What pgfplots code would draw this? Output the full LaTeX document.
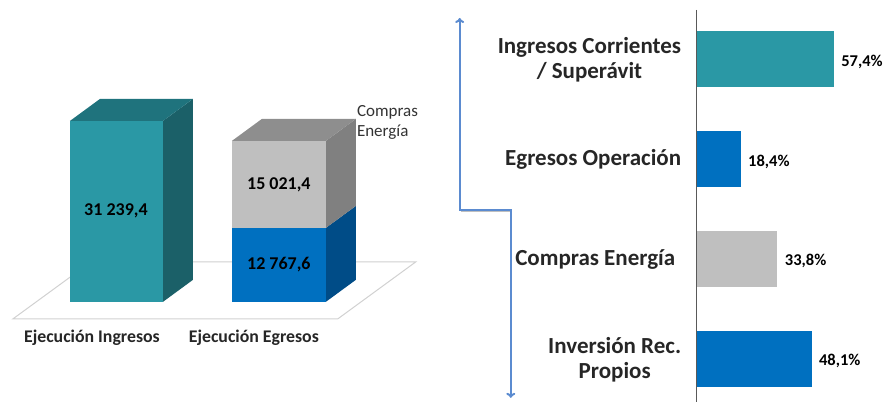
\documentclass[border=0pt]{standalone}
\usepackage{pgfplots}
\pgfplotsset{compat=1.18}
\usepackage{fontspec}
\setmainfont{Carlito}
\usetikzlibrary{arrows.meta}
\definecolor{tealF}{HTML}{2A98A5}
\definecolor{tealS}{HTML}{1B6068}
\definecolor{tealT}{HTML}{1F737D}
\definecolor{blueF}{HTML}{0070C0}
\definecolor{blueS}{HTML}{004C87}
\definecolor{grayF}{HTML}{BFBFBF}
\definecolor{grayS}{HTML}{808080}
\definecolor{grayT}{HTML}{8E8E8E}
\definecolor{arrowc}{HTML}{5B8BD0}
\pgfplotsset{
  pctbar/.style={xbar, draw=none, bar shift=0pt, point meta=x,
    nodes near coords={\pgfmathprintnumber[fixed, fixed zerofill, precision=1, use comma, assume math mode=true]{\pgfplotspointmeta}\%},
    nodes near coords style={anchor=west, text=black, font=\bfseries\fontsize{16.5}{18}\selectfont, xshift=4pt, yshift=-2pt}},
}
\begin{document}
\begin{tikzpicture}[x=1pt,y=1pt]
\path (0,0) rectangle (886,402);
% ---------------- left: 3D columns ----------------
\begin{axis}[at={(0pt,0pt)}, anchor=south west, scale only axis,
  width=440pt, height=402pt, xmin=0, xmax=440, ymin=-17259, ymax=52122,
  hide axis, clip=false]
% floor
\addplot[draw=black!18, line width=1pt, fill=white] coordinates {(13,-2934) (338,-2934) (416,6904) (91,6904)} --cycle;
% Ejecucion Ingresos
\addplot[draw=none, fill=tealS] coordinates {(163,0) (193,3797) (193,35036.4) (163,31239.4)} --cycle;
\addplot[draw=none, fill=tealT] coordinates {(70,31239.4) (163,31239.4) (193,35036.4) (100,35036.4)} --cycle;
\addplot[draw=none, fill=tealF] coordinates {(70,0) (163,0) (163,31239.4) (70,31239.4)} --cycle;
% Ejecucion Egresos
\addplot[draw=none, fill=blueS] coordinates {(326,0) (356,3797) (356,16564.6) (326,12767.6)} --cycle;
\addplot[draw=none, fill=blueF] coordinates {(232,0) (326,0) (326,12767.6) (232,12767.6)} --cycle;
\addplot[draw=none, fill=grayS] coordinates {(326,12767.6) (356,16564.6) (356,31586) (326,27789)} --cycle;
\addplot[draw=none, fill=grayT] coordinates {(232,27789) (326,27789) (356,31586) (262,31586)} --cycle;
\addplot[draw=none, fill=grayF] coordinates {(232,12767.6) (326,12767.6) (326,27789) (232,27789)} --cycle;
% labels
\node[font=\bfseries\fontsize{18}{20}\selectfont] at (axis cs:116,15706) {31 239,4};
\node[font=\bfseries\fontsize{18}{20}\selectfont] at (axis cs:279,20193) {15 021,4};
\node[font=\bfseries\fontsize{18}{20}\selectfont] at (axis cs:279,6386) {12 767,6};
\node[font=\bfseries\fontsize{17.8}{20}\selectfont, text=black!85] at (axis cs:92,-6213) {Ejecución Ingresos};
\node[font=\bfseries\fontsize{17.8}{20}\selectfont, text=black!85] at (axis cs:254,-6213) {Ejecución Egresos};
\node[anchor=west, align=left, inner sep=0pt, font=\fontsize{17}{20}\selectfont, text=black!80] at (axis cs:357,30894) {Compras\\Energía};
\end{axis}
% ---------------- right: horizontal bars ----------------
\begin{axis}[at={(697pt,0pt)}, anchor=south west, scale only axis,
  width=189pt, height=392pt, xmin=0, xmax=79.08, ymin=-0.495, ymax=3.425,
  y dir=reverse, bar width=56pt, clip=false,
  axis x line=none, axis y line=left, y axis line style={-, black!65, line width=0.8pt},
  ytick={0,1,2,3}, major tick length=0pt,
  yticklabels={{Ingresos Corrientes\\/ Superávit},{Egresos Operación},{Compras Energía\hspace*{6pt}},{Inversión Rec.\\Propios}},
  yticklabel style={align=center, font=\bfseries\fontsize{23}{25}\selectfont, text=black!85, xshift=-12pt},
]
\addplot[pctbar, fill=tealF] coordinates {(57.4,0)};
\addplot[pctbar, fill=blueF] coordinates {(18.4,1)};
\addplot[pctbar, fill=grayF] coordinates {(33.8,2)};
\addplot[pctbar, fill=blueF] coordinates {(48.1,3)};
\addplot[black!25, line width=2pt, xshift=1pt, yshift=-1.5pt] coordinates {(-99.2,1.505) (-77.8,1.505)};
\addplot[arrowc, line width=2pt, {To[length=5pt,width=9pt]}-{To[length=5pt,width=9pt]}] coordinates {(-99.2,-0.415) (-99.2,1.505) (-77.8,1.505) (-77.8,3.385)};
\end{axis}
\end{tikzpicture}
\end{document}
